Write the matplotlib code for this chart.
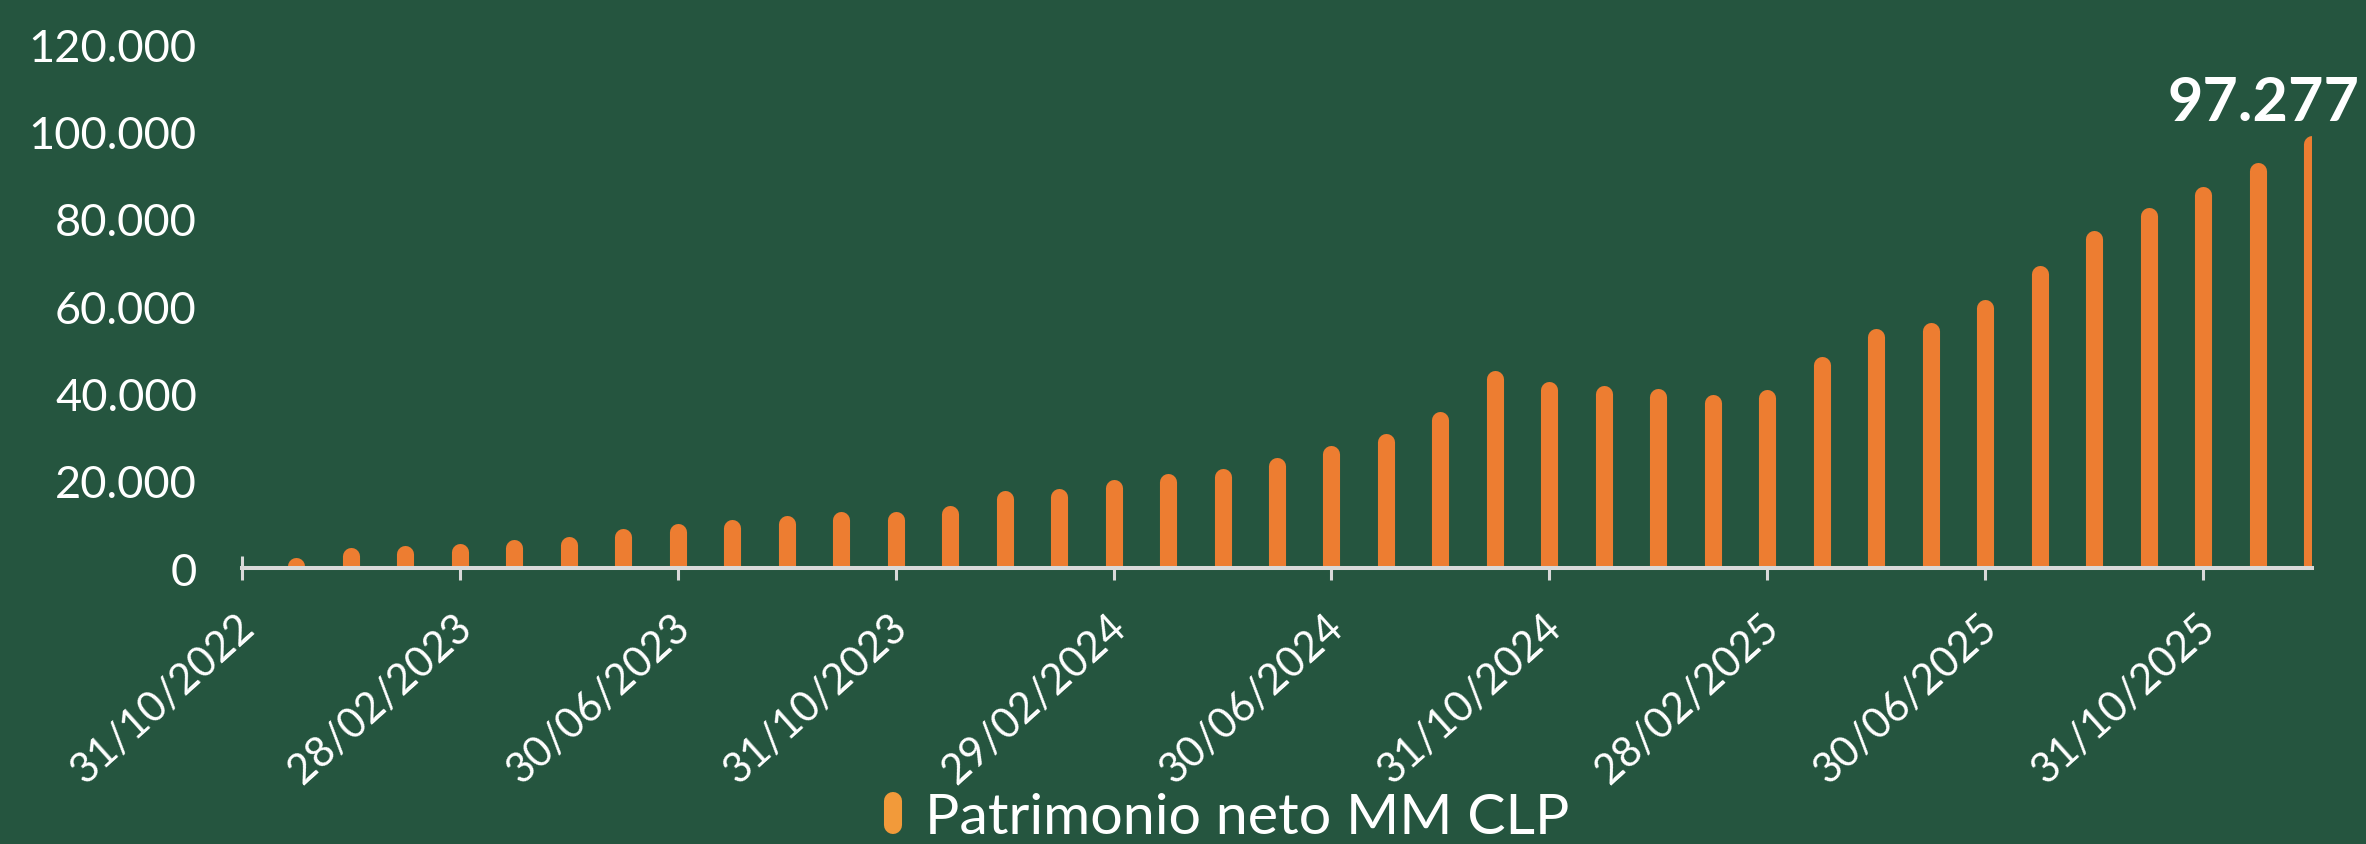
import matplotlib
matplotlib.use('Agg')
import matplotlib.pyplot as plt
import matplotlib.transforms as mtransforms
from matplotlib.lines import Line2D
from matplotlib.markers import MarkerStyle
from matplotlib.ticker import FuncFormatter

# ---------------- data ----------------
# axis categories (month ends); the axis starts at 31/10/2022 (no bar there)
months = ['31/10/2022', '30/11/2022', '31/12/2022', '31/01/2023', '28/02/2023',
          '31/03/2023', '30/04/2023', '31/05/2023', '30/06/2023', '31/07/2023',
          '31/08/2023', '30/09/2023', '31/10/2023', '30/11/2023', '31/12/2023',
          '31/01/2024', '29/02/2024', '31/03/2024', '30/04/2024', '31/05/2024',
          '30/06/2024', '31/07/2024', '31/08/2024', '30/09/2024', '31/10/2024',
          '30/11/2024', '31/12/2024', '31/01/2025', '28/02/2025', '31/03/2025',
          '30/04/2025', '31/05/2025', '30/06/2025', '31/07/2025', '31/08/2025',
          '30/09/2025', '31/10/2025', '30/11/2025', '31/12/2025']

# Patrimonio neto MM CLP, from 30/11/2022 to 31/12/2025
patrimonio = [500, 2750, 3140, 3670, 4580, 5270, 7100, 8250, 9170, 10150,
              10930, 11070, 12450, 15800, 16300, 18300, 19700, 20900, 23300, 26100,
              28800, 33900, 43300, 40800, 39800, 39100, 37900, 39000, 46500, 53000,
              54400, 59600, 67500, 75500, 80600, 85500, 91000, 97277]

tick_labels = months[::4]
series_label = 'Patrimonio neto MM CLP'
yticks = [0, 20000, 40000, 60000, 80000, 100000, 120000]

# ---------------- style ----------------
BG = '#25553F'
BAR = '#ED7D31'
LEG = '#F29A3A'
AXIS = '#D9D9D9'
plt.rcParams['font.family'] = ['Lato', 'DejaVu Sans']

W, H, DPI = 2366, 845, 100
fig = plt.figure(figsize=(W / DPI, H / DPI), dpi=DPI, facecolor=BG)
ax = fig.add_axes([242 / W, 1 - 569 / H, (2312 - 242) / W, (569 - 45.5) / H])
ax.set_facecolor(BG)

x_pos = list(range(1, len(months)))
ax.vlines(x_pos, 0, patrimonio, colors=BAR, linewidth=12.3, capstyle='round', zorder=2)

ax.set_xlim(0, len(months) - 1)
ax.set_ylim(0, 120000)

for s in ['left', 'top', 'right']:
    ax.spines[s].set_visible(False)
ax.spines['bottom'].set_color(AXIS)
ax.spines['bottom'].set_linewidth(2.9)
ax.spines['bottom'].set_zorder(3)

ax.set_yticks(yticks)
ax.yaxis.set_major_formatter(FuncFormatter(lambda v, p: f"{int(v):,}".replace(',', '.')))
ax.tick_params(axis='y', length=0, pad=32.5, labelsize=32.5, labelcolor='white')

ax.set_xticks(list(range(0, len(months), 4)))
ax.set_xticklabels(tick_labels)
ax.tick_params(axis='x', direction='inout', length=17, width=2.2, color=AXIS,
               labelsize=30, labelcolor='white', pad=29.5)
offset = mtransforms.ScaledTranslation(6 / DPI, 0, fig.dpi_scale_trans)
for lab in ax.get_xticklabels():
    lab.set_rotation(42)
    lab.set_ha('right')
    lab.set_va('center')
    lab.set_rotation_mode('anchor')
    lab.set_transform(lab.get_transform() + offset)

# last value label
ax.annotate(f"{patrimonio[-1]:,}".replace(',', '.'), xy=(x_pos[-1], patrimonio[-1]),
            xytext=(34, 17), textcoords='offset points', ha='right', va='baseline',
            fontsize=44, fontweight='bold', color='white', annotation_clip=False)

# legend
handle = Line2D([0], [0], linestyle='None', marker=MarkerStyle('|', capstyle='round'),
                markersize=17.3, markeredgewidth=13, color=LEG)
leg = fig.legend([handle], [series_label], loc='center',
                 bbox_to_anchor=(1224 / W, 1 - 819 / H), frameon=False,
                 fontsize=41.3, handlelength=0.5, handletextpad=0.32, borderpad=0)
for t in leg.get_texts():
    t.set_color('white')

fig.savefig('out.png', dpi=DPI, facecolor=BG)
